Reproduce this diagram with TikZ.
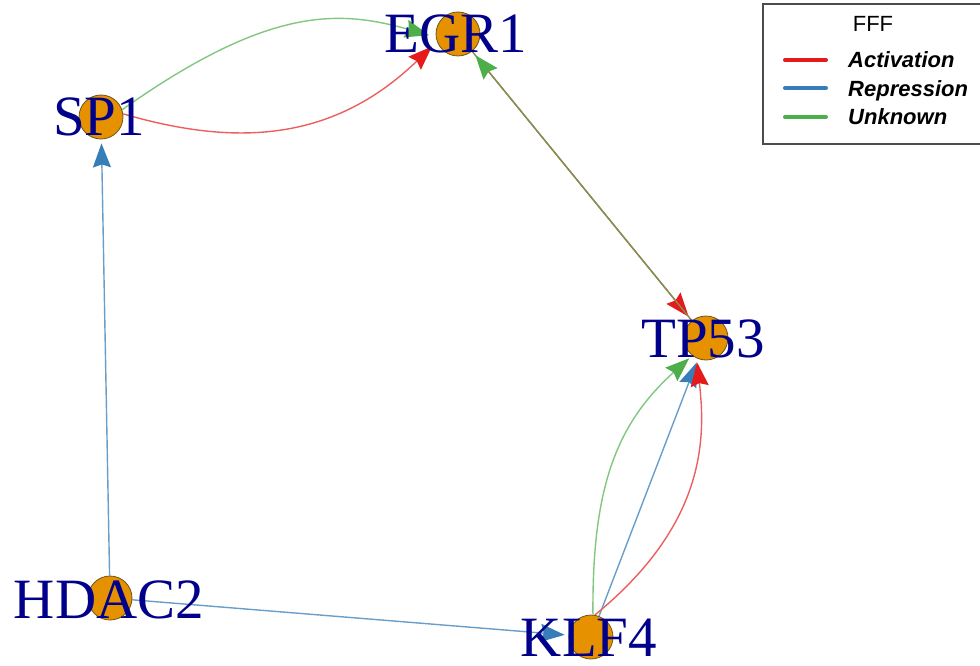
\documentclass[tikz,border=0pt]{standalone}
\usepackage{fontspec}
\setmainfont{Liberation Serif}
\newfontfamily\legfont{Liberation Sans}
\usetikzlibrary{arrows.meta,backgrounds}
\definecolor{actC}{RGB}{228,26,28}
\definecolor{repC}{RGB}{55,126,184}
\definecolor{unkC}{RGB}{77,175,74}
\definecolor{vfill}{RGB}{230,145,0}
\definecolor{vline}{RGB}{110,85,30}
\definecolor{labC}{RGB}{0,0,139}
\definecolor{mixC}{RGB}{138,138,82}
\begin{document}
\begin{tikzpicture}[x=1pt,y=-1pt,
  vert/.style={circle,fill=vfill,draw=vline,line width=0.8pt,minimum size=44pt,inner sep=0pt},
  vlab/.style={anchor=base,text=labC,font=\fontsize{57}{60}\selectfont,inner sep=0pt},
  edgeline/.style={line width=1.4pt,shorten >=4pt},
  acttip/.style={-{Stealth[length=24pt,width=18pt,inset=3pt,color=actC]}},
  reptip/.style={-{Stealth[length=24pt,width=18pt,inset=3pt,color=repC]}},
  unktip/.style={-{Stealth[length=24pt,width=18pt,inset=3pt,color=unkC]}},
  actedge/.style={edgeline,draw=actC!70!white,acttip},
  repedge/.style={edgeline,draw=repC!75!white,reptip},
  unkedge/.style={edgeline,draw=unkC!70!white,unktip},
  legline/.style={line width=4pt,line cap=round},
  legtext/.style={anchor=base west,inner sep=0pt,font=\legfont\bfseries\itshape\fontsize{22}{24}\selectfont}
]
\useasboundingbox (0,0) rectangle (980,666);

% vertices
\node[vert] (sp1) at (101,117) {};
\node[vert] (egr1) at (458,34) {};
\node[vert] (tp53) at (706,338) {};
\node[vert] (klf4) at (591,637) {};
\node[vert] (hdac2) at (110,598) {};

% edges
\begin{scope}[on background layer]
\draw[unkedge,shorten >=7pt] (sp1.19) .. controls (270,5) and (340,10) .. (egr1.188);
\draw[actedge,shorten >=7pt] (sp1.8) .. controls (230,145) and (330,145) .. (egr1.200);
\draw[edgeline,draw=mixC,acttip,shorten >=5pt] (egr1) -- (tp53);
\draw[edgeline,draw=mixC,unktip,shorten >=5pt] (tp53) -- (egr1);
\draw[repedge] (hdac2) -- (sp1);
\draw[repedge] (hdac2) -- (klf4);
\draw[unkedge] (klf4.85) .. controls (592,490) and (615,425) .. (tp53.232);
\draw[repedge] (klf4) -- (tp53);
\draw[actedge] (klf4.80) .. controls (705,525) and (706,440) .. (tp53.245);
\end{scope}

% labels
\node[vlab] (sp1l) at (99,136) {SP1};
\node[vlab] (egr1l) at (456,53) {EGR1};
\node[vlab] (tp53l) at (703,357) {TP53};
\node[vlab] (klf4l) at (589,656) {KLF4};
\node[vlab] (hdac2l) at (109,618) {HDAC2};

% legend
\draw[draw=gray!60!black,line width=1.5pt,fill=white] (763,4) rectangle (995,144);
\node[anchor=base,inner sep=0pt,font=\legfont\fontsize{22}{24}\selectfont] (legtitle) at (873,32) {FFF};
\draw[legline,actC] (785,60) -- (826,60);
\draw[legline,repC] (785,88) -- (826,88);
\draw[legline,unkC] (785,117) -- (826,117);
\node[legtext] (legact) at (848,68) {Activation};
\node[legtext] (legrep) at (848,97) {Repression};
\node[legtext] (legunk) at (848,125) {Unknown};
\end{tikzpicture}
\end{document}
